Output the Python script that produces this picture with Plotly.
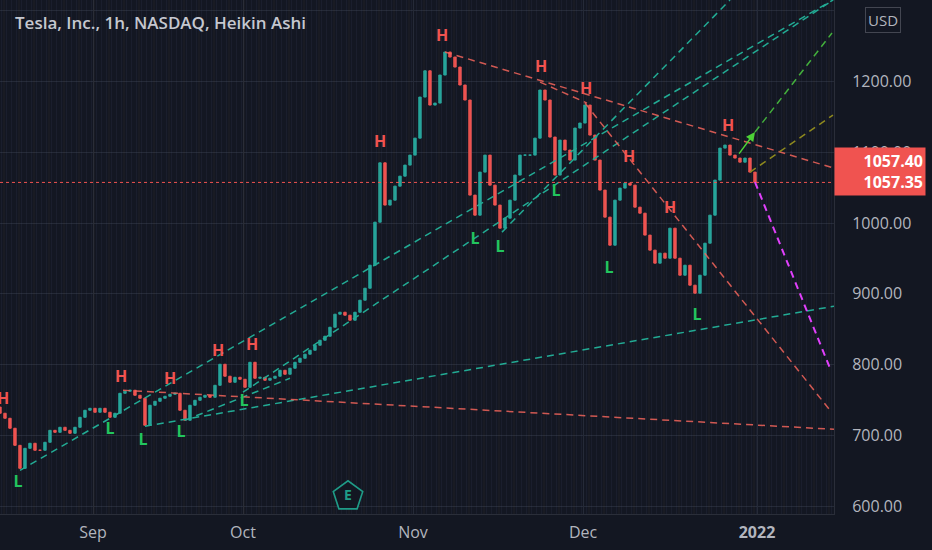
import plotly.graph_objects as go

# --- data (bar index ~ half a trading day) ---
closes = [
    731.3, 724.2, 710.1, 686.0, 653.5, 681.8, 688.9, 679.0, 679.0, 690.3,
    707.2, 704.4, 711.5, 707.2, 703.0, 711.5, 725.6, 735.5, 738.3, 732.7,
    738.3, 732.7, 725.6, 731.3, 759.5, 762.4, 763.8, 756.7, 752.5, 714.3,
    742.6, 748.2, 752.5, 755.3, 758.1, 759.5, 735.5, 721.4, 742.6, 749.6,
    753.9, 756.7, 753.9, 770.8, 800.5, 783.6, 775.1, 782.1, 779.3, 768.0,
    803.3, 780.7, 782.1, 777.9, 780.7, 783.6, 792.0, 786.4, 794.9, 803.3,
    809.0, 814.7, 820.3, 827.4, 834.4, 840.1, 852.8, 871.2, 874.0, 869.8,
    862.7, 874.0, 891.0, 907.9, 940.4, 1001.2, 1085.0, 1025.3, 1032.3, 1052.1,
    1066.2, 1081.8, 1095.9, 1119.9, 1177.9, 1215.0, 1166.6, 1169.4, 1209.0, 1241.5,
    1234.4, 1220.3, 1194.9, 1173.7, 1039.4, 1011.1, 1071.9, 1095.9, 1053.5, 1025.3,
    992.7, 1006.9, 1032.3, 1067.7, 1095.9, 1095.9, 1095.9, 1119.9, 1187.8, 1173.7,
    1121.4, 1067.7, 1117.1, 1103.0, 1088.9, 1134.1, 1141.2, 1166.6, 1124.2, 1088.9,
    1046.5, 1008.3, 968.7, 1032.3, 1049.3, 1056.3, 1053.5, 1022.4, 1013.9, 982.9,
    961.7, 943.3, 957.4, 950.3, 992.7, 950.3, 926.3, 940.4, 912.2, 900.9,
    926.3, 971.5, 1011.1, 1060.6, 1105.8, 1110.1, 1095.9, 1091.7, 1086.0, 1091.7,
    1071.9, 1057.35,
]
first_open = 740.0

month_pos = [18.6, 48.6, 82.6, 116.6, 151.4]
month_text = ["Sep", "Oct", "Nov", "Dec", "<b>2022</b>"]
price_ticks = [600, 700, 800, 900, 1000, 1100, 1200, 1300]

# pivot labels (bar, price)
high_x = [0.6, 24.2, 34.0, 43.6, 50.4, 76.0, 88.4, 108.2, 117.2, 125.8, 134.0, 145.6]
high_y = [749.6, 780.7, 777.9, 817.5, 826.0, 1112.9, 1262.7, 1218.9, 1187.8, 1091.7, 1019.6, 1135.5]
low_x = [3.6, 22.0, 28.6, 36.2, 48.8, 95.0, 100.0, 111.2, 121.8, 139.4]
low_y = [632.3, 707.2, 691.7, 703.0, 746.8, 975.8, 964.5, 1043.6, 934.8, 868.4]

# trend lines: (x0, y0, x1, y1)
green_lines = [
    (4.0, 650.7, 166.6, 1315.0),
    (29.0, 712.9, 166.8, 882.5),
    (48.6, 761.0, 166.6, 1315.0),
    (100.4, 987.1, 146.0, 1315.0),
    (37.0, 721.4, 58.0, 780.7),
]
red_lines = [
    (89.0, 1241.5, 166.8, 1077.5),
    (24.6, 763.8, 166.8, 708.6),
    (117.0, 1169.4, 166.0, 735.5),
    (108.0, 1199.1, 117.4, 1169.4),
]
target_down = (151.0, 1057.8, 166.0, 794.9)
target_up = (151.0, 1128.4, 166.4, 1268.4)
target_mid = (150.0, 1071.9, 166.6, 1152.5)
arrow_seg = (147.6, 1095.9, 151.0, 1128.4)

last_price = 1057.35
last_price_ha = 1057.40
earnings_x = 69.6

BG = "#131722"
TXT = "#b2b5be"
UP = "#26a69a"
DOWN = "#ef5350"
FONT = "Open Sans"
DASH = "7px,5px"

xs = list(range(len(closes)))
opens = [first_open] + closes[:-1]
highs = [max(o, c) for o, c in zip(opens, closes)]
lows = [min(o, c) for o, c in zip(opens, closes)]

fig = go.Figure()

# faint session stripes in the background
sx, sy = [], []
for k in range(0, 170):
    sx += [k + 0.3, k + 0.3, None]
    sy += [580, 1330, None]
fig.add_trace(go.Scatter(x=sx, y=sy, mode="lines", line=dict(color="rgba(70,80,110,0.14)", width=1),
                         hoverinfo="skip"))
sx2, sy2 = [], []
for k in range(0, 170, 3):
    sx2 += [k + 0.8, k + 0.8, None]
    sy2 += [580, 1330, None]
fig.add_trace(go.Scatter(x=sx2, y=sy2, mode="lines", line=dict(color="rgba(120,90,60,0.14)", width=1),
                         hoverinfo="skip"))

fig.add_trace(go.Candlestick(
    x=xs, open=opens, high=highs, low=lows, close=closes,
    increasing=dict(line=dict(color=UP, width=1), fillcolor=UP),
    decreasing=dict(line=dict(color=DOWN, width=1), fillcolor=DOWN),
    whiskerwidth=0,
))


def seg(line, color, dash=DASH, width=1.5):
    x0, y0, x1, y1 = line
    fig.add_trace(go.Scatter(x=[x0, x1], y=[y0, y1], mode="lines",
                             line=dict(color=color, dash=dash, width=width),
                             hoverinfo="skip"))


for ln in green_lines:
    seg(ln, "#22ab94")
for ln in red_lines:
    seg(ln, "rgba(242,100,90,0.85)")
seg(target_down, "#e040fb", DASH, 2)
seg(target_up, "#43b03c")
seg(target_mid, "#8f8a1e")

fig.add_annotation(x=arrow_seg[2], y=arrow_seg[3], ax=arrow_seg[0], ay=arrow_seg[1],
                   xref="x", yref="y", axref="x", ayref="y", text="",
                   showarrow=True, arrowhead=2, arrowsize=1.2, arrowwidth=1.5, arrowcolor="#4cd137")

fig.add_trace(go.Scatter(x=high_x, y=high_y, mode="text", text=["H"] * len(high_x),
                         textfont=dict(color="#f05350", size=16, family=FONT, weight="bold"),
                         cliponaxis=True, hoverinfo="skip"))
fig.add_trace(go.Scatter(x=low_x, y=low_y, mode="text", text=["L"] * len(low_x),
                         textfont=dict(color="#22c55e", size=16, family=FONT, weight="bold"),
                         cliponaxis=True, hoverinfo="skip"))

# earnings marker
fig.add_trace(go.Scatter(x=[earnings_x], y=[614], mode="markers+text", text=["E"],
                         textposition="middle center",
                         marker=dict(symbol="pentagon", size=31, color=BG,
                                     line=dict(color="#1f9c88", width=1.6)),
                         textfont=dict(color="#1f9c88", size=14, family=FONT, weight="bold"),
                         hoverinfo="skip"))

fig.add_hline(y=last_price, line=dict(color="#f05350", width=1, dash="dot"))

fig.update_layout(
    width=932, height=550,
    margin=dict(l=0, r=98, t=0, b=36, autoexpand=False),
    paper_bgcolor=BG, plot_bgcolor=BG,
    showlegend=False,
    font=dict(family=FONT, color=TXT, size=16),
    xaxis=dict(range=[0, 166.8], tickvals=month_pos, ticktext=month_text,
               showgrid=True, gridcolor="#252a37", zeroline=False,
               showline=True, linecolor="#2a2e39", ticks="", rangeslider=dict(visible=False),
               tickfont=dict(size=16, color=TXT), ticklabelstandoff=4, fixedrange=True),
    yaxis=dict(range=[589, 1315], side="right", tickvals=price_ticks, tickformat=".2f",
               showgrid=True, gridcolor="#252a37", zeroline=False,
               showline=True, linecolor="#2a2e39", ticks="",
               tickfont=dict(size=16, color=TXT), ticklabelstandoff=14, fixedrange=True),
)

fig.add_annotation(xref="paper", yref="paper", x=0.015, y=0.957, xanchor="left", yanchor="middle",
                   text="Tesla, Inc., 1h, NASDAQ, Heikin Ashi", showarrow=False,
                   font=dict(size=17, color="#c5c8d0", family=FONT, weight=600))
fig.add_annotation(xref="paper", yref="paper", x=1.059, y=0.961, xanchor="center", yanchor="middle",
                   text="USD", showarrow=False, bgcolor=BG, bordercolor="#434651", borderwidth=1,
                   borderpad=2, font=dict(size=15, color=TXT))
fig.add_annotation(xref="paper", yref="y", x=1.0, y=last_price + 15, xanchor="left", yanchor="middle",
                   text=f"<b>{last_price_ha:.2f}</b><br><b>{last_price:.2f}</b>", showarrow=False,
                   align="right", bgcolor="#f05350", borderpad=2, width=86,
                   font=dict(size=16, color="white", family=FONT))

fig.write_html("out.html", config={"displayModeBar": False},
               post_script="document.body.style.margin='0';")
